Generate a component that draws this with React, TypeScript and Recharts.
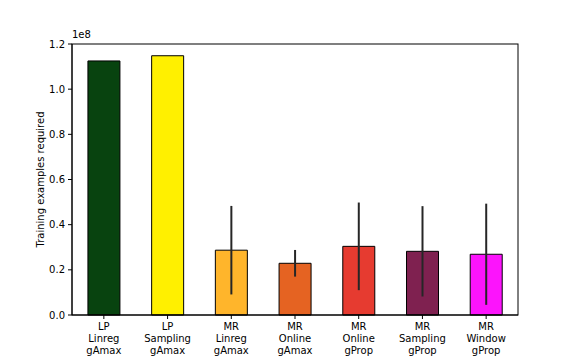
import React from 'react';
import { Bar, BarChart, Cell, ErrorBar, XAxis, YAxis } from 'recharts';

const categories = [
  'LP\nLinreg\ngAmax',
  'LP\nSampling\ngAmax',
  'MR\nLinreg\ngAmax',
  'MR\nOnline\ngAmax',
  'MR\nOnline\ngProp',
  'MR\nSampling\ngProp',
  'MR\nWindow\ngProp',
];
const means = [1.125e8, 1.148e8, 2.87e7, 2.29e7, 3.04e7, 2.82e7, 2.69e7];
const errors = [0, 0, 1.96e7, 0.59e7, 1.94e7, 2.0e7, 2.24e7];
const yTicks = [0, 2e7, 4e7, 6e7, 8e7, 1e8, 1.2e8];

const BAR_COLORS = ['#08430f', '#fff000', '#ffb52b', '#e56322', '#e63b30', '#7f2150', '#fc14fc'];
const FONT = 'DejaVu Sans, sans-serif';

const chartData = categories.map((name, i) => ({
  name,
  value: means[i],
  err: errors[i],
}));

function MultiLineTick(props: any) {
  const { x, y, payload } = props;
  const lines = String(payload.value).split('\n');
  return (
    <text x={x} y={y} textAnchor="middle" fontSize={10} fontFamily={FONT} fill="#000">
      {lines.map((line, i) => (
        <tspan key={i} x={x} dy={i === 0 ? 9 : 12}>
          {line}
        </tspan>
      ))}
    </text>
  );
}

export default function App() {
  return (
    <div style={{ position: 'absolute', left: 0, top: 0, width: 576, height: 360, background: '#fff' }}>
      <div
        style={{
          position: 'absolute',
          left: 72,
          top: 29,
          fontSize: 10,
          fontFamily: FONT,
          color: '#000',
        }}
      >
        1e8
      </div>
      <BarChart
        width={576}
        height={360}
        data={chartData}
        margin={{ top: 44, right: 58, left: 0, bottom: 0 }}
        barCategoryGap="25%"
      >
        <XAxis
          dataKey="name"
          height={45}
          interval={0}
          tick={<MultiLineTick />}
          tickSize={4}
          tickLine={{ stroke: '#000' }}
          axisLine={{ stroke: '#000' }}
        />
        <YAxis
          width={72}
          domain={[0, 1.2e8]}
          ticks={yTicks}
          interval={0}
          tickSize={4}
          tickMargin={3}
          tickFormatter={(v: number) => (v / 1e8).toFixed(1)}
          tick={{ fontSize: 10, fill: '#000', fontFamily: FONT }}
          tickLine={{ stroke: '#000' }}
          axisLine={{ stroke: '#000' }}
          label={{
            value: 'Training examples required',
            angle: -90,
            position: 'center',
            dx: 4,
            style: { fontSize: 10, fill: '#000', fontFamily: FONT },
          }}
        />
        <Bar dataKey="value" stroke="#000" strokeWidth={1} isAnimationActive={false}>
          {chartData.map((_, i) => (
            <Cell key={`cell-${i}`} fill={BAR_COLORS[i]} />
          ))}
          <ErrorBar dataKey="err" width={0} stroke="#262626" strokeWidth={2} direction="y" isAnimationActive={false} />
        </Bar>
      </BarChart>
      {/* axes frame (top and right spines) */}
      <svg
        width={576}
        height={360}
        style={{ position: 'absolute', left: 0, top: 0, pointerEvents: 'none' }}
      >
        <rect x={72} y={44} width={446} height={271} fill="none" stroke="#000" strokeWidth={1} />
      </svg>
    </div>
  );
}
